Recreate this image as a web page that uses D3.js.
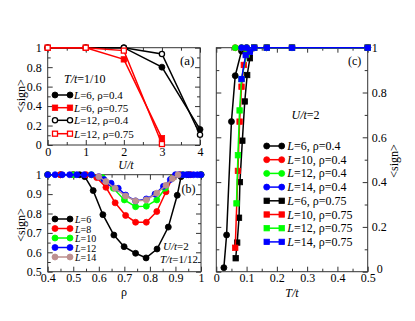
<!DOCTYPE html>
<html><head><meta charset="utf-8">
<script src="https://cdn.jsdelivr.net/npm/d3@7"></script>
<style>body{margin:0;background:#fff}svg{display:block}text{font-family:"Liberation Serif","Times New Roman",serif;fill:#000}</style>
</head><body><svg id="c" width="415" height="321"></svg>
<script>
// ---------- Panel (a): <sign> vs U/t, T/t=1/10 ----------
const aU = [0, 1, 2, 3, 4];
const aL6r04 = [1, 1, 1, 0.80, 0.16];
const aL12r04 = [1, 1, 1, 0.935, 0.105];
const aU75 = [0, 1, 2, 3];
const aL6r075 = [1, 1, 0.88, 0.07];
const aL12r075 = [1, 1, 0.97, 0.01];
const aXTicks = [0, 1, 2, 3, 4];
const aYTicks = [0, 0.2, 0.4, 0.6, 0.8, 1];

// ---------- Panel (b): <sign> vs rho, U/t=2, T/t=1/12 ----------
const bRho6 = [0.40, 0.45, 0.50, 0.525, 0.545, 0.578, 0.616, 0.659, 0.699, 0.744, 0.785, 0.828, 0.872, 0.907, 0.922, 0.95, 1.0];
const bL6 = [1, 1, 1, 1, 0.99, 0.918, 0.794, 0.689, 0.629, 0.595, 0.571, 0.617, 0.730, 0.894, 0.99, 1, 1];
const bRho8 = [0.40, 0.45, 0.50, 0.55, 0.592, 0.628, 0.664, 0.705, 0.744, 0.786, 0.827, 0.863, 0.888, 0.92, 0.96, 1.0];
const bL8 = [1, 1, 1, 1, 0.985, 0.935, 0.855, 0.79, 0.755, 0.755, 0.81, 0.912, 0.983, 1, 1, 1];
const bRho10 = [0.40, 0.50, 0.571, 0.614, 0.657, 0.70, 0.744, 0.786, 0.827, 0.86, 0.885, 0.93, 1.0];
const bL10 = [1, 1, 1, 0.985, 0.93, 0.87, 0.835, 0.838, 0.87, 0.93, 0.98, 1, 1];
const bRho12 = [0.40, 0.429, 0.457, 0.486, 0.514, 0.543, 0.571, 0.60, 0.62, 0.648, 0.676, 0.705, 0.744, 0.786, 0.82, 0.853, 0.88, 0.90, 0.914, 0.929, 0.943, 0.957, 0.971, 0.986, 1.0];
const bL12 = [1, 1, 1, 1, 1, 1, 1, 0.99, 0.975, 0.956, 0.93, 0.895, 0.865, 0.875, 0.90, 0.94, 0.975, 1, 1, 1, 1, 1, 1, 1, 1];
const bRho14 = [0.60, 0.628, 0.664, 0.705, 0.744, 0.786, 0.827, 0.863, 0.888, 0.91];
const bL14 = [0.99, 0.965, 0.93, 0.89, 0.865, 0.87, 0.905, 0.945, 0.98, 1];
const bXTicks = [0.4, 0.5, 0.6, 0.7, 0.8, 0.9, 1];
const bYTicks = [0.5, 0.6, 0.7, 0.8, 0.9, 1];

// ---------- Panel (c): <sign> vs T/t, U/t=2 ----------
const cT6a = [0.025, 0.034, 0.05, 0.0625, 0.0833, 0.1, 0.125, 0.167, 0.25, 0.5];
const cL6a = [0.018, 0.164, 0.67, 0.875, 0.985, 1, 1, 1, 1, 1];
const cT10a = [0.0625, 0.0833, 0.1, 0.125, 0.167, 0.25, 0.5];
const cL10a = [1, 1, 1, 1, 1, 1, 1];
const cT12a = [0.0625, 0.0833, 0.1, 0.125, 0.167, 0.25, 0.5];
const cL12a = [1, 1, 1, 1, 1, 1, 1];
const cT14a = [0.0833, 0.1, 0.125, 0.167, 0.25, 0.5];
const cL14a = [1, 1, 1, 1, 1, 1];
const cT6b = [0.064, 0.069, 0.075, 0.078, 0.086, 0.094, 0.102, 0.111, 0.125, 0.167, 0.25, 0.5];
const cL6b = [0.06, 0.13, 0.241, 0.40, 0.585, 0.76, 0.878, 0.953, 1, 1, 1, 1];
const cT10b = [0.0625, 0.0714, 0.0769, 0.0833, 0.0909, 0.1, 0.125, 0.167, 0.25, 0.5];
const cL10b = [0.107, 0.45, 0.67, 0.826, 0.923, 0.97, 1, 1, 1, 1];
const cT12b = [0.0667, 0.0714, 0.0769, 0.0833, 0.1, 0.125, 0.167, 0.25, 0.5];
const cL12b = [0.305, 0.52, 0.72, 0.86, 0.97, 1, 1, 1, 1];
const cT14b = [0.0833, 0.097, 0.111, 0.125, 0.167, 0.25, 0.5];
const cL14b = [0.86, 0.967, 0.982, 1, 1, 1, 1];
const cXTicks = [0, 0.1, 0.2, 0.3, 0.4, 0.5];
const cYTicks = [0, 0.2, 0.4, 0.6, 0.8, 1];

const svg = d3.select('#c');
const fmt = v => String(+v.toFixed(2));
const mids = t => t.slice(1).map((v, i) => +((v + t[i]) / 2).toFixed(3));

function makePanel(p) {
  const x = d3.scaleLinear().domain(p.xd).range([p.L, p.R]);
  const y = d3.scaleLinear().domain(p.yd).range([p.B, p.T]);
  const g = svg.append('g');
  const defs = [
    ['bottom', d3.axisBottom(x), `translate(0,${p.B})`, p.xMaj, true, 2],
    ['top', d3.axisTop(x), `translate(0,${p.T})`, p.xMaj, false, 3],
    ['left', d3.axisLeft(y), `translate(${p.L},0)`, p.yMaj, p.yLeft, 6],
    ['right', d3.axisRight(y), `translate(${p.R},0)`, p.yMaj, !p.yLeft, 4]
  ];
  const groups = {};
  defs.forEach(([name, ax, tr, maj, lab, pad]) => {
    const gmin = g.append('g').attr('transform', tr)
      .call(ax.tickValues(mids(maj)).tickSize(-3).tickFormat(''));
    gmin.select('.domain').remove();
    const gmaj = g.append('g').attr('transform', tr)
      .call(ax.tickValues(maj).tickSize(-5).tickPadding(pad).tickFormat(lab ? fmt : ''));
    gmaj.select('.domain').remove();
    gmaj.selectAll('text').attr('font-size', 12).attr('font-family', 'Liberation Serif').attr('fill', '#000');
    groups[name] = gmaj;
  });
  g.selectAll('.tick line').attr('stroke', '#333');
  g.append('rect').attr('x', p.L).attr('y', p.T).attr('width', p.R - p.L).attr('height', p.B - p.T)
    .attr('fill', 'none').attr('stroke', '#333').attr('stroke-width', 1);
  return { x, y, g, groups };
}

function marker(g, shape, cx, cy, color, open) {
  if (shape === 'circle') {
    g.append('circle').attr('cx', cx).attr('cy', cy).attr('r', open ? 2.6 : 3)
      .attr('fill', open ? '#fff' : color).attr('stroke', color).attr('stroke-width', open ? 1.3 : 0.8);
  } else {
    const s = open ? 5 : 5.4;
    g.append('rect').attr('x', cx - s / 2).attr('y', cy - s / 2).attr('width', s).attr('height', s)
      .attr('fill', open ? '#fff' : color).attr('stroke', color).attr('stroke-width', open ? 1.3 : 0.8);
  }
}

function series(P, xs, ys, color, shape, open) {
  const pts = xs.map((v, i) => [P.x(v), P.y(ys[i])]);
  P.g.append('path').attr('d', d3.line()(pts)).attr('fill', 'none').attr('stroke', color).attr('stroke-width', 1.5);
  pts.forEach(q => marker(P.g, shape, q[0], q[1], color, open));
}

function richText(g, x, y, parts, size, extra) {
  const t = g.append('text').attr('x', x).attr('y', y).attr('font-size', size);
  if (extra) extra(t);
  parts.forEach(([s, it]) => t.append('tspan').text(s).attr('font-style', it ? 'italic' : 'normal'));
  return t;
}

function legend(g, x1, x2, tx, rows, entries, size) {
  entries.forEach((e, i) => {
    const yy = rows[i];
    g.append('line').attr('x1', x1).attr('x2', x2).attr('y1', yy).attr('y2', yy).attr('stroke', e.color).attr('stroke-width', 1.5);
    marker(g, e.shape, x1, yy, e.color, e.open);
    marker(g, e.shape, x2, yy, e.color, e.open);
    richText(g, tx, yy, e.label, size, t => t.attr('dominant-baseline', 'central'));
  });
}

// ===== Panel (a) =====
const A = makePanel({ L: 47.7, R: 200, T: 47.7, B: 145, xd: [0, 4], yd: [0, 1], xMaj: aXTicks, yMaj: aYTicks, yLeft: true });
series(A, aU, aL6r04, '#000', 'circle', false);
series(A, aU, aL12r04, '#000', 'circle', true);
series(A, aU75, aL6r075, '#ff0000', 'square', false);
series(A, aU75, aL12r075, '#ff0000', 'square', true);
richText(svg, 180, 65, [['(a)', false]], 13);
richText(svg, 64, 83, [['T/t', true], ['=1/10', false]], 12);
legend(svg, 55, 70, 74, [95, 107.7, 120.3, 133.7], [
  { color: '#000', shape: 'circle', open: false, label: [['L', true], ['=6, ρ=0.4', false]] },
  { color: '#ff0000', shape: 'square', open: false, label: [['L', true], ['=6, ρ=0.75', false]] },
  { color: '#000', shape: 'circle', open: true, label: [['L', true], ['=12, ρ=0.4', false]] },
  { color: '#ff0000', shape: 'square', open: true, label: [['L', true], ['=12, ρ=0.75', false]] }
], 11);
svg.append('text').attr('transform', 'translate(25,96) rotate(-90)').attr('text-anchor', 'middle').attr('font-size', 12).text('<sign>');
richText(svg, 126, 169, [['U/t', true]], 12, t => t.attr('text-anchor', 'middle'));

// ===== Panel (b) =====
const B = makePanel({ L: 47.7, R: 201, T: 174.7, B: 271.7, xd: [0.4, 1], yd: [0.5, 1], xMaj: bXTicks, yMaj: bYTicks, yLeft: true });
series(B, bRho6, bL6, '#000', 'circle', false);
series(B, bRho8, bL8, '#ff0000', 'circle', false);
series(B, bRho10, bL10, '#00ff00', 'circle', false);
series(B, bRho12, bL12, '#0000ff', 'circle', false);
series(B, bRho14, bL14, '#bc8f8f', 'circle', false);
richText(svg, 181.5, 193, [['(b)', false]], 12);
richText(svg, 163, 250, [['U/t', true], ['=2', false]], 11);
richText(svg, 160, 263, [['T/t', true], ['=1/12', false]], 11);
legend(svg, 55, 70, 75, [219, 228.5, 238, 247.5, 257], [
  { color: '#000', shape: 'circle', label: [['L', true], ['=6', false]] },
  { color: '#ff0000', shape: 'circle', label: [['L', true], ['=8', false]] },
  { color: '#00ff00', shape: 'circle', label: [['L', true], ['=10', false]] },
  { color: '#0000ff', shape: 'circle', label: [['L', true], ['=12', false]] },
  { color: '#bc8f8f', shape: 'circle', label: [['L', true], ['=14', false]] }
], 10);
svg.append('text').attr('transform', 'translate(25,225) rotate(-90)').attr('text-anchor', 'middle').attr('font-size', 12).text('<sign>');
svg.append('text').attr('x', 124).attr('y', 296).attr('text-anchor', 'middle').attr('font-size', 12).text('ρ');

// ===== Panel (c) =====
const C = makePanel({ L: 216.3, R: 367.7, T: 47.7, B: 271.7, xd: [0, 0.5], yd: [0, 1], xMaj: cXTicks, yMaj: cYTicks, yLeft: false });
// shift the right-axis "0" label so it doesn't collide with the "0.5" x label
C.groups.right.selectAll('.tick').filter(d => d === 0).select('text').attr('dy', '0.1em').attr('x', 9);
series(C, cT6a, cL6a, '#000', 'circle', false);
series(C, cT10a, cL10a, '#ff0000', 'circle', false);
series(C, cT12a, cL12a, '#00ff00', 'circle', false);
series(C, cT14a, cL14a, '#0000ff', 'circle', false);
series(C, cT6b, cL6b, '#000', 'square', false);
series(C, cT10b, cL10b, '#ff0000', 'square', false);
series(C, cT12b, cL12b, '#00ff00', 'square', false);
series(C, cT14b, cL14b, '#0000ff', 'square', false);
richText(svg, 348, 65, [['(c)', false]], 12);
richText(svg, 291.5, 119, [['U/t', true], ['=2', false]], 12);
const cRows = d3.range(8).map(i => 146 + 13.7 * i);
legend(svg, 266.7, 281.7, 287.3, cRows, [
  { color: '#000', shape: 'circle', label: [['L', true], ['=6, ρ=0.4', false]] },
  { color: '#ff0000', shape: 'circle', label: [['L', true], ['=10, ρ=0.4', false]] },
  { color: '#00ff00', shape: 'circle', label: [['L', true], ['=12, ρ=0.4', false]] },
  { color: '#0000ff', shape: 'circle', label: [['L', true], ['=14, ρ=0.4', false]] },
  { color: '#000', shape: 'square', label: [['L', true], ['=6, ρ=0.75', false]] },
  { color: '#ff0000', shape: 'square', label: [['L', true], ['=10, ρ=0.75', false]] },
  { color: '#00ff00', shape: 'square', label: [['L', true], ['=12, ρ=0.75', false]] },
  { color: '#0000ff', shape: 'square', label: [['L', true], ['=14, ρ=0.75', false]] }
], 12);
svg.append('text').attr('transform', 'translate(398,161) rotate(-90)').attr('text-anchor', 'middle').attr('font-size', 12).text('<sign>');
richText(svg, 292, 297, [['T/t', true]], 12, t => t.attr('text-anchor', 'middle'));
</script></body></html>
